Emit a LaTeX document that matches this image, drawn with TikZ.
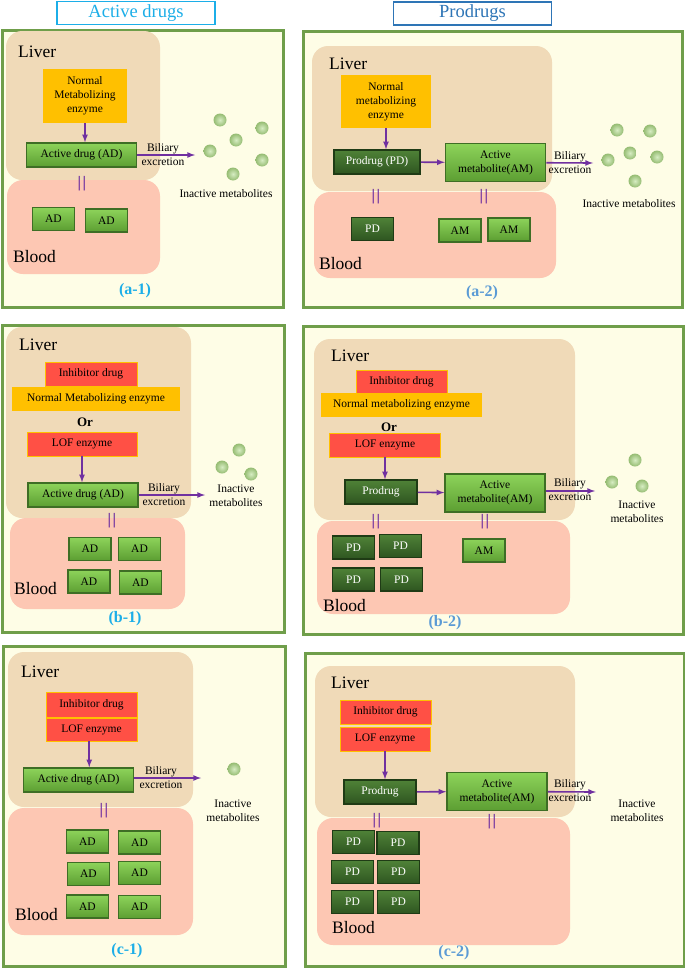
\documentclass[tikz,border=0pt]{standalone}
\usepackage{fontspec}
\setmainfont{Liberation Serif}
\usetikzlibrary{shapes,arrows,positioning}

\definecolor{panelbg}{HTML}{FEFDE6}
\definecolor{panelrim}{HTML}{6F9E4A}
\definecolor{liverc}{HTML}{F0DAB8}
\definecolor{bloodc}{HTML}{FDC7B3}
\definecolor{enzc}{HTML}{FFC000}
\definecolor{inhc}{HTML}{FF5045}
\definecolor{amtop}{HTML}{8DD35A}
\definecolor{ambot}{HTML}{5C9E32}
\definecolor{amrim}{HTML}{3E6E25}
\definecolor{pdtop}{HTML}{4F8237}
\definecolor{pdbot}{HTML}{2E5520}
\definecolor{pdrim}{HTML}{1F3B15}
\definecolor{flowc}{HTML}{7030A0}
\definecolor{ballhi}{HTML}{D6ECC2}
\definecolor{ballc}{HTML}{95BC72}
\definecolor{capac}{HTML}{1CAEE8}
\definecolor{capbc}{HTML}{5B9BD5}
\definecolor{titlebc}{HTML}{2E75B6}

\begin{document}
\begin{tikzpicture}[x=1pt,y=-1pt]
% Define node styles
\tikzstyle{panel} = [draw=panelrim, line width=3pt, fill=panelbg]
\tikzstyle{liver} = [fill=liverc, rounded corners=16pt]
\tikzstyle{blood} = [fill=bloodc, rounded corners=16pt]
\tikzstyle{title} = [line width=1.5pt, fill=white, minimum width=158, minimum height=23, font=\fontsize{18.5}{20}\selectfont]
\tikzstyle{region} = [anchor=west, inner sep=0pt, font=\fontsize{17.5}{20}\selectfont]
\tikzstyle{enzyme} = [fill=enzc, align=center, inner sep=0pt, font=\fontsize{11.5}{14}\selectfont]
\tikzstyle{inhibit} = [fill=inhc, draw=enzc, line width=0.6pt, inner sep=0pt, font=\fontsize{11.5}{14}\selectfont]
\tikzstyle{active} = [top color=amtop, bottom color=ambot, draw=amrim, line width=1.5pt, align=center, inner sep=0pt, font=\fontsize{11.5}{14}\selectfont]
\tikzstyle{pro} = [top color=pdtop, bottom color=pdbot, draw=pdrim, line width=1.5pt, text=white, inner sep=0pt, font=\fontsize{11.5}{14}\selectfont]
\tikzstyle{adbox} = [minimum width=110, minimum height=24]
\tikzstyle{ambox} = [minimum width=100, minimum height=38]
\tikzstyle{prbox} = [minimum width=72, minimum height=24]
\tikzstyle{smallbox} = [minimum width=42, minimum height=23]
\tikzstyle{small} = [align=center, font=\fontsize{11.5}{14}\selectfont]
\tikzstyle{orword} = [font=\bfseries\fontsize{13}{14}\selectfont]
\tikzstyle{eq} = [text=flowc, inner sep=0pt, font=\bfseries\fontsize{16}{16}\selectfont]
\tikzstyle{capa} = [text=capac, font=\bfseries\fontsize{16}{18}\selectfont]
\tikzstyle{capb} = [text=capbc, font=\bfseries\fontsize{16}{18}\selectfont]
\tikzstyle{flow} = [->, >=latex, draw=flowc, line width=1.6pt]
\tikzstyle{ball} = [inner color=ballhi, outer color=ballc]

\useasboundingbox (0,0) rectangle (685,969);

% Panel (a-1)
\draw[panel] (2,30) rectangle (283,307);
\node[title, draw=capac, text=capac] (titleA) at (136,13) {Active drugs};
\fill[liver] (6,31) rectangle (160,180);
\fill[blood] (7,180) rectangle (160,274);
\node[region] (liverA1) at (18,52) {Liver};
\node[enzyme, minimum width=84, minimum height=54] (enzA1) at (85,96) {Normal\\Metabolizing\\enzyme};
\node[active, adbox] (adA1) at (81.5,155) {Active drug (AD)};
\node[small] (bilA1) at (163,155) {Biliary\\excretion};
\coordinate (outA1) at (195,155);
\node[small] (inA1) at (226,194) {Inactive metabolites};
\node[eq] (eqA1) at (82,184) {|\kern1.5pt|};
\node[active, smallbox] (adA1a) at (53.5,219) {AD};
\node[active, smallbox] (adA1b) at (106.5,220.5) {AD};
\node[region] (bloodA1) at (13,257) {Blood};
\node[capa] (capA1) at (135,291) {(a-1)};
\draw[flow] (enzA1.south) -- (enzA1.south |- adA1.north);
\draw[flow] (adA1) -- (outA1);
\foreach \p in {(220,120),(262,128),(236,140),(210,151),(262,160),(233,174)}
  \shade[ball] \p circle (6.5pt);

% Panel (a-2)
\draw[panel] (303,31) rectangle (682,307);
\node[title, draw=titlebc, text=titlebc] (titleB) at (472.5,13.5) {Prodrugs};
\fill[liver] (312,46) rectangle (552,191);
\fill[blood] (314,192) rectangle (556,278);
\node[region] (liverA2) at (329,64) {Liver};
\node[enzyme, minimum width=90, minimum height=53] (enzA2) at (386,101.5) {Normal\\metabolizing\\enzyme};
\node[pro, minimum width=86, minimum height=24] (pdA2) at (377,162) {Prodrug (PD)};
\node[active, ambox] (amA2) at (495.5,162.5) {Active\\metabolite(AM)};
\node[small] (bilA2) at (570,163) {Biliary\\excretion};
\coordinate (outA2) at (593,163);
\node[small] (inA2) at (629,204) {Inactive metabolites};
\node[eq] (eqA2a) at (376,197) {|\kern1.5pt|};
\node[eq] (eqA2b) at (484,197) {|\kern1.5pt|};
\node[pro, smallbox] (pdA2a) at (372.5,229) {PD};
\node[active, smallbox] (amA2a) at (460,230.5) {AM};
\node[active, smallbox] (amA2b) at (509,229.5) {AM};
\node[region] (bloodA2) at (319,264) {Blood};
\node[capb] (capA2) at (482,293) {(a-2)};
\draw[flow] (enzA2.south) -- (enzA2.south |- pdA2.north);
\draw[flow] (pdA2) -- (amA2);
\draw[flow] (amA2) -- (outA2);
\foreach \p in {(617,130),(650,131),(630,153),(608,160),(657,157),(635,181)}
  \shade[ball] \p circle (6.5pt);

% Panel (b-1)
\draw[panel] (2,325) rectangle (284,632);
\fill[liver] (6,327) rectangle (191,518);
\fill[blood] (10,518) rectangle (185,609);
\node[region] (liverB1) at (19,345) {Liver};
\node[inhibit, minimum width=92, minimum height=24] (inhB1) at (91,374) {Inhibitor drug};
\node[enzyme, minimum width=168, minimum height=24] (enzB1) at (96,399) {Normal Metabolizing enzyme};
\node[orword] (orB1) at (85,422) {Or};
\node[inhibit, minimum width=110, minimum height=24] (lofB1) at (82,444) {LOF enzyme};
\node[active, adbox] (adB1) at (83,495) {Active drug (AD)};
\node[small] (bilB1) at (164,495) {Biliary\\excretion};
\coordinate (outB1) at (205,495);
\node[small] (inB1) at (236,496) {Inactive\\metabolites};
\node[eq] (eqB1) at (112,521) {|\kern1.5pt|};
\node[active, smallbox] (adB1a) at (90,549) {AD};
\node[active, smallbox] (adB1b) at (139.5,549) {AD};
\node[active, smallbox] (adB1c) at (89,581.5) {AD};
\node[active, smallbox] (adB1d) at (140.5,582.5) {AD};
\node[region] (bloodB1) at (14,589) {Blood};
\node[capa] (capB1) at (125,619) {(b-1)};
\draw[flow] (lofB1.south) -- (lofB1.south |- adB1.north);
\draw[flow] (adB1) -- (outB1);
\foreach \p in {(239,450),(222,467),(251,474)}
  \shade[ball] \p circle (6.5pt);

% Panel (b-2)
\draw[panel] (303,326) rectangle (683,634);
\fill[liver] (314,339) rectangle (575,520);
\fill[blood] (317,521) rectangle (570,614);
\node[region] (liverB2) at (331,356) {Liver};
\node[inhibit, minimum width=91, minimum height=23] (inhB2) at (401.5,381.5) {Inhibitor drug};
\node[enzyme, minimum width=161, minimum height=24] (enzB2) at (401.5,405) {Normal metabolizing enzyme};
\node[orword] (orB2) at (389,427) {Or};
\node[inhibit, minimum width=111, minimum height=24] (lofB2) at (385,445) {LOF enzyme};
\node[pro, prbox] (pdB2) at (381,492) {Prodrug};
\node[active, ambox] (amB2) at (495,493) {Active\\metabolite(AM)};
\node[small] (bilB2) at (570,490) {Biliary\\excretion};
\coordinate (outB2) at (595,491);
\node[small] (inB2) at (637,512) {Inactive\\metabolites};
\node[eq] (eqB2a) at (376,522) {|\kern1.5pt|};
\node[eq] (eqB2b) at (485,522) {|\kern1.5pt|};
\node[pro, smallbox] (pdB2a) at (353.5,547.5) {PD};
\node[pro, smallbox] (pdB2b) at (400.5,546) {PD};
\node[pro, smallbox] (pdB2c) at (353.5,579.5) {PD};
\node[pro, smallbox] (pdB2d) at (401.5,579.5) {PD};
\node[active, smallbox] (amB2a) at (484,550.5) {AM};
\node[region] (bloodB2) at (323,606) {Blood};
\node[capb] (capB2) at (445,623) {(b-2)};
\draw[flow] (lofB2.south) -- (lofB2.south |- pdB2.north);
\draw[flow] (pdB2) -- (amB2);
\draw[flow] (amB2.east |- outB2) -- (outB2);
\foreach \p in {(635,460),(612,482),(642,486)}
  \shade[ball] \p circle (6.5pt);

% Panel (c-1)
\draw[panel] (3,646) rectangle (285,966);
\fill[liver] (8,652) rectangle (193,807);
\fill[blood] (8,808) rectangle (193,935);
\node[region] (liverC1) at (21,672) {Liver};
\node[inhibit, minimum width=91, minimum height=25] (inhC1) at (91.5,704.5) {Inhibitor drug};
\node[inhibit, minimum width=91, minimum height=23] (lofC1) at (91.5,729.5) {LOF enzyme};
\node[active, adbox] (adC1) at (78.5,780) {Active drug (AD)};
\node[small] (bilC1) at (161,778) {Biliary\\excretion};
\coordinate (outC1) at (201,778);
\node[small] (inC1) at (233,811) {Inactive\\metabolites};
\node[eq] (eqC1) at (104,811) {|\kern1.5pt|};
\node[active, smallbox] (adC1a) at (87.5,841.5) {AD};
\node[active, smallbox] (adC1b) at (139.5,842.5) {AD};
\node[active, smallbox] (adC1c) at (88.5,874) {AD};
\node[active, smallbox] (adC1d) at (139.5,873) {AD};
\node[active, smallbox] (adC1e) at (87.5,906.5) {AD};
\node[active, smallbox] (adC1f) at (139.5,907) {AD};
\node[region] (bloodC1) at (15,915) {Blood};
\node[capa] (capC1) at (127,951) {(c-1)};
\draw[flow] (lofC1.south -| adC1.north east) ++(-45,0) coordinate (dnC1) -- (dnC1 |- adC1.north);
\draw[flow] (adC1.east |- outC1) -- (outC1);
\shade[ball] (234,769) circle (6.5pt);

% Panel (c-2)
\draw[panel] (305,653) rectangle (684,966);
\fill[liver] (315,666) rectangle (575,817);
\fill[blood] (317,818) rectangle (570,945);
\node[region] (liverC2) at (331,683) {Liver};
\node[inhibit, minimum width=91, minimum height=24] (inhC2) at (385.5,712) {Inhibitor drug};
\node[inhibit, minimum width=90, minimum height=24] (lofC2) at (385,739) {LOF enzyme};
\node[pro, prbox] (pdC2) at (380,792) {Prodrug};
\node[active, ambox] (amC2) at (497,791.5) {Active\\metabolite(AM)};
\node[small] (bilC2) at (570,791) {Biliary\\excretion};
\coordinate (outC2) at (596,792);
\node[small] (inC2) at (637,811) {Inactive\\metabolites};
\node[eq] (eqC2a) at (377,821) {|\kern1.5pt|};
\node[eq] (eqC2b) at (492,822) {|\kern1.5pt|};
\node[pro, smallbox] (pdC2a) at (353.5,842) {PD};
\node[pro, smallbox] (pdC2b) at (398,843) {PD};
\node[pro, smallbox] (pdC2c) at (352.5,872) {PD};
\node[pro, smallbox] (pdC2d) at (398.5,872) {PD};
\node[pro, smallbox] (pdC2e) at (352.5,902) {PD};
\node[pro, smallbox] (pdC2f) at (398.5,902) {PD};
\node[region] (bloodC2) at (332,928) {Blood};
\node[capb] (capC2) at (454,953) {(c-2)};
\draw[flow] (lofC2.south) -- (lofC2.south |- pdC2.north);
\draw[flow] (pdC2) -- (amC2);
\draw[flow] (amC2) -- (outC2);
\end{tikzpicture}
\end{document}
